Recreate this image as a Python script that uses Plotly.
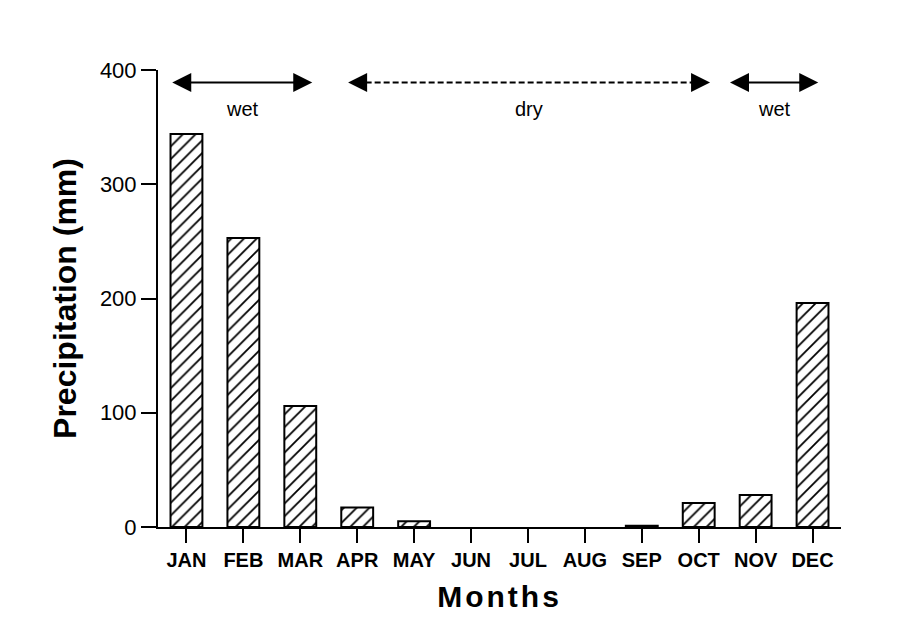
import plotly.graph_objects as go

months = ["JAN", "FEB", "MAR", "APR", "MAY", "JUN", "JUL", "AUG", "SEP", "OCT", "NOV", "DEC"]
precip = [344, 253, 106, 17, 5, 0, 0, 0, 1, 21, 28, 196]

y_ticks = [0, 100, 200, 300, 400]

# season arrows (in category units) and labels
season_labels = ["wet", "dry", "wet"]
season_start = [-0.25, 2.84, 9.55]
season_end = [2.21, 9.20, 11.10]
season_dash = ["solid", "6px,3px", "solid"]
arrow_y = 389
label_y = 366

x_pos = list(range(len(months)))
outline = [0 if v == 0 else 2 for v in precip]

fig = go.Figure()
fig.add_trace(go.Bar(
    x=x_pos, y=precip, width=0.56,
    marker=dict(color="white", line=dict(color="black", width=outline),
                pattern=dict(shape="/", fgcolor="black", bgcolor="white", fgopacity=1,
                             fillmode="replace", size=9, solidity=0.2)),
    showlegend=False,
))

shapes = []
annotations = []
for lab, x0, x1, dash in zip(season_labels, season_start, season_end, season_dash):
    shapes.append(dict(type="line", xref="x", yref="y", x0=x0 + 0.15, x1=x1 - 0.15,
                       y0=arrow_y, y1=arrow_y, line=dict(color="black", width=2, dash=dash)))
    for xt, off in ((x0, 20), (x1, -20)):
        annotations.append(dict(x=xt, y=arrow_y, xref="x", yref="y", ax=off, ay=0,
                                text="", showarrow=True, arrowhead=2, arrowsize=1.9,
                                arrowwidth=2, arrowcolor="black", standoff=0))
    annotations.append(dict(x=(x0 + x1) / 2, y=label_y, xref="x", yref="y", text=lab,
                            showarrow=False, font=dict(family="Liberation Sans, Arial", size=20, color="black")))

fig.update_layout(
    width=907, height=626,
    margin=dict(l=150, r=74, t=62, b=107),
    paper_bgcolor="white", plot_bgcolor="white",
    shapes=shapes, annotations=annotations,
    font=dict(family="Liberation Sans, Arial", color="black"),
    xaxis=dict(range=[-0.5, 11.5], tickvals=x_pos, ticktext=months,
               tickfont=dict(size=20, family="Liberation Sans, Arial", weight="bold"),
               ticks="outside", ticklen=14, tickwidth=2, tickcolor="black",
               showline=True, linecolor="black", linewidth=2, showgrid=False, zeroline=False,
               title=dict(text="<b><span style='letter-spacing:3px'>Months</span></b>",
                          font=dict(size=30), standoff=16)),
    yaxis=dict(range=[0, 400], tickvals=y_ticks, tickfont=dict(size=22),
               ticks="outside", ticklen=15, tickwidth=2, tickcolor="black",
               showline=True, linecolor="black", linewidth=2, showgrid=False, zeroline=False,
               title=dict(text="<b>Precipitation (mm)</b>", font=dict(size=32), standoff=14)),
)

fig.write_html("out.html")
